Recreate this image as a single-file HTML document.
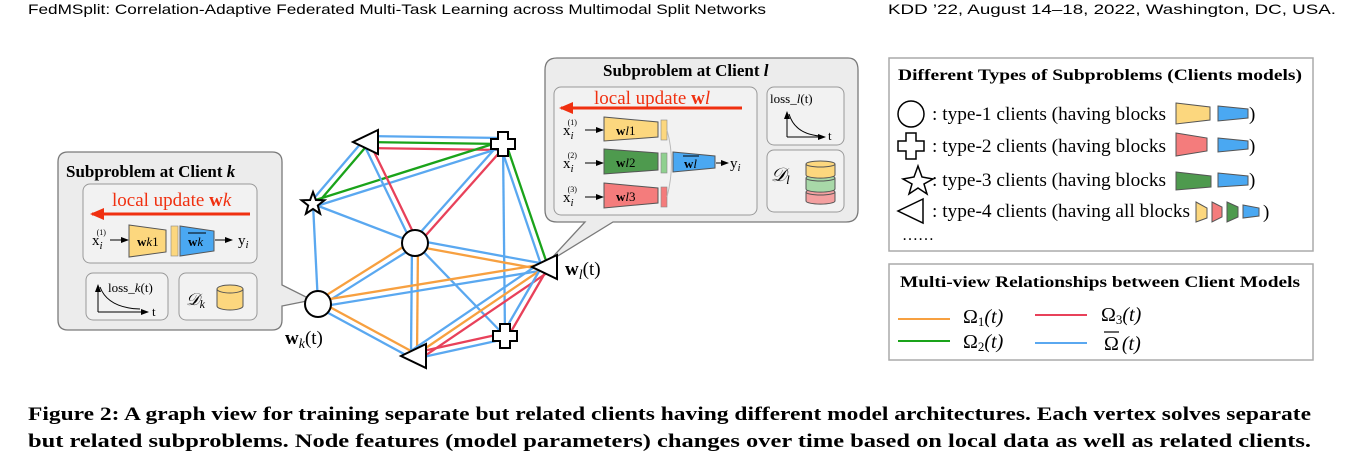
<!DOCTYPE html>
<html><head><meta charset="utf-8"><style>
html,body{margin:0;padding:0;background:#fff;}
svg{display:block;}
</style></head><body>
<svg id="s" width="1362" height="468" viewBox="0 0 1362 468" xmlns="http://www.w3.org/2000/svg" font-family="'Liberation Serif', serif">
<defs>
<marker id="ar" markerWidth="8" markerHeight="8" refX="7" refY="4" orient="auto" markerUnits="userSpaceOnUse"><path d="M0,1 L8,4 L0,7 z" fill="#000"/></marker>
<marker id="arr" markerWidth="14" markerHeight="12" refX="12" refY="6" orient="auto" markerUnits="userSpaceOnUse"><path d="M0,0 L14,6 L0,12 z" fill="#f03010"/></marker>
</defs>
<!-- header -->
<text x="28" y="14" font-family="'Liberation Sans',sans-serif" font-size="14" textLength="738" lengthAdjust="spacingAndGlyphs">FedMSplit: Correlation-Adaptive Federated Multi-Task Learning across Multimodal Split Networks</text>
<text x="888" y="14" font-family="'Liberation Sans',sans-serif" font-size="14" textLength="448" lengthAdjust="spacingAndGlyphs">KDD ’22, August 14–18, 2022, Washington, DC, USA.</text>

<g id="edges" stroke-width="2.3" fill="none"></g>

<!-- callout k -->
<path d="M68,152 H272 Q282,152 282,162 V285 L312,300 L282,306 V320 Q282,330 272,330 H68 Q58,330 58,320 V162 Q58,152 68,152 Z" fill="#ececec" stroke="#7a7a7a" stroke-width="1.3"/>
<text x="66" y="177" font-size="17" font-weight="bold">Subproblem at Client <tspan font-style="italic">k</tspan></text>
<rect x="83" y="184" width="174" height="79" rx="7" fill="#f2f2f2" stroke="#999"/>
<text x="112" y="206" font-size="19" fill="#f03010">local update <tspan font-weight="bold">w</tspan><tspan font-style="italic">k</tspan></text>
<line x1="250" y1="214" x2="92" y2="214" stroke="#f03010" stroke-width="3" marker-end="url(#arr)"/>
<text x="92" y="245" font-size="15">x<tspan font-size="11" font-style="italic" dy="4">i</tspan><tspan font-size="8" dx="-6" dy="-14">(1)</tspan></text>
<line x1="110" y1="240" x2="128" y2="240" stroke="#000" marker-end="url(#ar)"/>
<path d="M129,225 L166,230 V252 L129,257 Z" fill="#fcd77e" stroke="#555"/>
<text x="137" y="246" font-size="13" font-weight="bold">w<tspan font-style="italic" font-weight="normal">k</tspan><tspan font-weight="normal">1</tspan></text>
<rect x="171" y="226" width="7" height="30" fill="#fcd77e" stroke="#888" stroke-width="0.6"/>
<path d="M180,226 L214,231 V251 L180,256 Z" fill="#4aa8f2" stroke="#555"/>
<text x="188" y="246" font-size="13" font-weight="bold">w<tspan font-style="italic" font-weight="normal">k</tspan></text>
<line x1="188" y1="233" x2="206" y2="233" stroke="#000"/>
<line x1="215" y1="240" x2="232" y2="240" stroke="#000" marker-end="url(#ar)"/>
<text x="238" y="245" font-size="15">y<tspan font-size="11" font-style="italic" dy="3">i</tspan></text>
<rect x="86" y="273" width="82" height="47" rx="7" fill="#f2f2f2" stroke="#999"/>
<line x1="98" y1="312" x2="98" y2="285" stroke="#000" marker-end="url(#ar)"/>
<line x1="98" y1="312" x2="148" y2="312" stroke="#000" marker-end="url(#ar)"/>
<path d="M100,287 Q108,308 140,309" stroke="#000" fill="none"/>
<text x="108" y="292" font-size="13">loss_<tspan font-style="italic">k</tspan>(t)</text>
<text x="152" y="316" font-size="13">t</text>
<rect x="179" y="273" width="78" height="47" rx="7" fill="#f2f2f2" stroke="#999"/>
<text x="186" y="305" font-size="17" font-style="italic">𝒟<tspan font-size="12" dy="3">k</tspan></text>
<path d="M217,289 V306 A13,4 0 0 0 243,306 V289" fill="#fcd77e" stroke="#555"/>
<ellipse cx="230" cy="289" rx="13" ry="4" fill="#fcd77e" stroke="#555"/>

<!-- callout l -->
<path d="M557,58 H848 Q858,58 858,70 V210 Q858,222 846,222 H613 L548,262 L585,222 H557 Q545,222 545,210 V70 Q545,58 557,58 Z" fill="#ececec" stroke="#7a7a7a" stroke-width="1.3"/>
<text x="603" y="76" font-size="17" font-weight="bold">Subproblem at Client <tspan font-style="italic">l</tspan></text>
<rect x="554" y="87" width="203" height="128" rx="7" fill="#f2f2f2" stroke="#999"/>
<text x="594" y="104" font-size="19" fill="#f03010">local update <tspan font-weight="bold">w</tspan><tspan font-style="italic">l</tspan></text>
<line x1="742" y1="108" x2="561" y2="108" stroke="#f03010" stroke-width="3" marker-end="url(#arr)"/>
<g font-size="15">
<text x="563" y="135">x<tspan font-size="11" font-style="italic" dy="4">i</tspan><tspan font-size="8" dx="-6" dy="-14">(1)</tspan></text>
<text x="563" y="168">x<tspan font-size="11" font-style="italic" dy="4">i</tspan><tspan font-size="8" dx="-6" dy="-14">(2)</tspan></text>
<text x="563" y="202">x<tspan font-size="11" font-style="italic" dy="4">i</tspan><tspan font-size="8" dx="-6" dy="-14">(3)</tspan></text>
</g>
<line x1="585" y1="130" x2="603" y2="130" stroke="#000" marker-end="url(#ar)"/>
<line x1="585" y1="163" x2="603" y2="163" stroke="#000" marker-end="url(#ar)"/>
<line x1="585" y1="197" x2="603" y2="197" stroke="#000" marker-end="url(#ar)"/>
<path d="M604,117 L658,122 V137 L604,141 Z" fill="#fcd77e" stroke="#555"/>
<path d="M604,149 L658,153 V170 L604,174 Z" fill="#4e9a4e" stroke="#555"/>
<path d="M604,183 L658,188 V203 L604,208 Z" fill="#f47c7c" stroke="#555"/>
<text x="616" y="135" font-size="13" font-weight="bold">w<tspan font-style="italic" font-weight="normal">l</tspan><tspan font-weight="normal">1</tspan></text>
<text x="616" y="167" font-size="13" font-weight="bold">w<tspan font-style="italic" font-weight="normal">l</tspan><tspan font-weight="normal">2</tspan></text>
<text x="616" y="201" font-size="13" font-weight="bold">w<tspan font-style="italic" font-weight="normal">l</tspan><tspan font-weight="normal">3</tspan></text>
<rect x="661" y="120" width="6" height="20" fill="#fcd77e" stroke="#888" stroke-width="0.6"/>
<rect x="661" y="153" width="6" height="20" fill="#8fd08f" stroke="#888" stroke-width="0.6"/>
<rect x="661" y="187" width="6" height="20" fill="#f47c7c" stroke="#888" stroke-width="0.6"/>
<path d="M667,130 Q676,162 667,197" stroke="#bbb" fill="none"/>
<path d="M673,152 L715,156 V168 L673,172 Z" fill="#4aa8f2" stroke="#555"/>
<text x="684" y="168" font-size="13" font-weight="bold">w<tspan font-style="italic" font-weight="normal">l</tspan></text>
<line x1="683" y1="156" x2="699" y2="156" stroke="#000"/>
<line x1="716" y1="163" x2="728" y2="163" stroke="#000" marker-end="url(#ar)"/>
<text x="730" y="168" font-size="15">y<tspan font-size="11" font-style="italic" dy="3">i</tspan></text>
<rect x="767" y="87" width="77" height="58" rx="7" fill="#f2f2f2" stroke="#999"/>
<text x="770" y="103" font-size="13">loss_<tspan font-style="italic">l</tspan>(t)</text>
<line x1="787" y1="137" x2="787" y2="112" stroke="#000" marker-end="url(#ar)"/>
<line x1="787" y1="137" x2="825" y2="137" stroke="#000" marker-end="url(#ar)"/>
<path d="M789,114 Q795,134 820,136" stroke="#000" fill="none"/>
<text x="828" y="140" font-size="13">t</text>
<rect x="767" y="150" width="77" height="62" rx="7" fill="#f2f2f2" stroke="#999"/>
<text x="771" y="181" font-size="19" font-style="italic">𝒟<tspan font-size="13" dy="3">l</tspan></text>
<g stroke="#555">
<path d="M806,192 V201 A14,3 0 0 0 835,201 V192" fill="#f4a0a0"/><ellipse cx="820.5" cy="192" rx="14.5" ry="3" fill="#f4a0a0"/>
<path d="M806,178 V189 A14,3 0 0 0 835,189 V178" fill="#a8d8a8"/><ellipse cx="820.5" cy="178" rx="14.5" ry="3" fill="#a8d8a8"/>
<path d="M806,164 V175 A14,3 0 0 0 835,175 V164" fill="#fcd77e"/><ellipse cx="820.5" cy="164" rx="14.5" ry="3" fill="#fcd77e"/>
</g>

<g id="nodes" fill="#fff" stroke="#000" stroke-width="2"></g>
<text x="285" y="344" font-size="19"><tspan font-weight="bold">w</tspan><tspan font-size="14" font-style="italic" dy="4">k</tspan><tspan dy="-4">(t)</tspan></text>
<text x="565" y="275" font-size="19"><tspan font-weight="bold">w</tspan><tspan font-size="14" font-style="italic" dy="4">l</tspan><tspan dy="-4">(t)</tspan></text>

<!-- legend 1 -->
<rect x="889" y="58" width="424" height="193" fill="#fff" stroke="#aaa" stroke-width="1.5"/>
<text x="898" y="80" font-size="16" font-weight="bold" textLength="404" lengthAdjust="spacingAndGlyphs">Different Types of Subproblems (Clients models)</text>
<g font-size="19">
<circle cx="911" cy="114" r="13" fill="#fff" stroke="#000" stroke-width="1.5"/>
<text x="932" y="120" textLength="234" lengthAdjust="spacingAndGlyphs">: type-1 clients (having blocks</text>
<path d="M906,133 h10 v8 h8 v10 h-8 v8 h-10 v-8 h-8 v-10 h8 z" fill="#fff" stroke="#000" stroke-width="1.5"/>
<text x="932" y="152" textLength="234" lengthAdjust="spacingAndGlyphs">: type-2 clients (having blocks</text>
<path d="M918,166 L922,177 L933,179 L924,184 L927,194 L918,188 L909,194 L912,184 L903,179 L914,177 Z" fill="#fff" stroke="#000" stroke-width="1.5"/>
<text x="932" y="186" textLength="234" lengthAdjust="spacingAndGlyphs">: type-3 clients (having blocks</text>
<path d="M923,199 L898,211 L923,223 Z" fill="#fff" stroke="#000" stroke-width="1.5"/>
<text x="932" y="217" textLength="258" lengthAdjust="spacingAndGlyphs">: type-4 clients (having all blocks</text>
<text x="902" y="240" font-size="16">……</text>
<g stroke="#555" stroke-width="1">
<path d="M1176,103 L1210,107 V120 L1176,124 Z" fill="#fcd77e"/>
<path d="M1218,106 L1248,109 V118 L1218,121 Z" fill="#4aa8f2"/>
<path d="M1176,133 L1207,138 V151 L1176,156 Z" fill="#f47c7c"/>
<path d="M1218,138 L1248,141 V149 L1218,152 Z" fill="#4aa8f2"/>
<path d="M1176,172 L1211,176 V187 L1176,190 Z" fill="#4e9a4e"/>
<path d="M1218,173 L1248,176 V185 L1218,187 Z" fill="#4aa8f2"/>
<path d="M1196,202 L1207,208 V218 L1196,222 Z" fill="#fcd77e"/>
<path d="M1212,202 L1222,207 V217 L1212,222 Z" fill="#f47c7c"/>
<path d="M1227,202 L1238,207 V217 L1227,222 Z" fill="#4e9a4e"/>
<path d="M1243,205 L1259,208 V216 L1243,218 Z" fill="#4aa8f2"/>
</g>
<text x="1249" y="120">)</text><text x="1249" y="152">)</text><text x="1249" y="186">)</text><text x="1263" y="218">)</text>
</g>

<!-- legend 2 -->
<rect x="889" y="264" width="424" height="96" fill="#fff" stroke="#aaa" stroke-width="1.5"/>
<text x="900" y="287" font-size="16" font-weight="bold" textLength="400" lengthAdjust="spacingAndGlyphs">Multi-view Relationships between Client Models</text>
<line x1="898" y1="319" x2="950" y2="319" stroke="#f7a040" stroke-width="2"/>
<line x1="898" y1="341" x2="950" y2="341" stroke="#1aa31a" stroke-width="2"/>
<line x1="1035" y1="315" x2="1087" y2="315" stroke="#e8415a" stroke-width="2"/>
<line x1="1035" y1="343" x2="1087" y2="343" stroke="#5aa8f0" stroke-width="2"/>
<g font-size="20">
<text x="963" y="323">Ω<tspan font-size="13" dy="3">1</tspan><tspan dy="-3" font-style="italic">(t)</tspan></text>
<text x="963" y="348">Ω<tspan font-size="13" dy="3">2</tspan><tspan dy="-3" font-style="italic">(t)</tspan></text>
<text x="1101" y="321">Ω<tspan font-size="13" dy="3">3</tspan><tspan dy="-3" font-style="italic">(t)</tspan></text>
<text x="1104" y="350">Ω<tspan dx="3" font-style="italic">(t)</tspan></text>
<line x1="1104" y1="332" x2="1119" y2="332" stroke="#000" stroke-width="1.2"/>
</g>

<!-- caption -->
<text x="28" y="420" font-size="19" font-weight="bold" textLength="1283" lengthAdjust="spacingAndGlyphs">Figure 2: A graph view for training separate but related clients having different model architectures. Each vertex solves separate</text>
<text x="28" y="447" font-size="19" font-weight="bold" textLength="1283" lengthAdjust="spacingAndGlyphs">but related subproblems. Node features (model parameters) changes over time based on local data as well as related clients.</text>
</svg>
<script>
var N={TL:[366,142],PT:[503,144],ST:[313,204],C:[415,243],K:[318,304],L:[545,267],PB:[505,336],TB:[414,356]};
var O='#f7a040',G='#1aa31a',R='#e8415a',B='#5aa8f0';
var E=[['TL','PT',[B,G,R]],['TL','ST',[G,B]],['ST','PT',[G,B]],['TL','C',[R,B]],['PT','C',[R,B]],['PT','L',[G,B]],['PT','PB',[B]],['ST','C',[B]],['ST','K',[B]],['C','L',[B,O]],['C','K',[B,O]],['C','TB',[O,B]],['C','PB',[B]],['K','L',[O,B]],['K','TB',[O,B]],['L','TB',[R,O,B]],['L','PB',[R,B]],['TB','PB',[R,B]]];
var g=document.getElementById('edges'),ns='http://www.w3.org/2000/svg';
E.forEach(function(e){var a=N[e[0]],b=N[e[1]],dx=b[0]-a[0],dy=b[1]-a[1],l=Math.hypot(dx,dy),px=-dy/l,py=dx/l,n=e[2].length;
e[2].forEach(function(c,i){var o=(i-(n-1)/2)*6;var ln=document.createElementNS(ns,'line');
ln.setAttribute('x1',a[0]+px*o);ln.setAttribute('y1',a[1]+py*o);ln.setAttribute('x2',b[0]+px*o);ln.setAttribute('y2',b[1]+py*o);ln.setAttribute('stroke',c);g.appendChild(ln);});});
var nd=document.getElementById('nodes');
function add(s){nd.insertAdjacentHTML('beforeend',s);}
function tri(c,s){return '<path d="M'+(c[0]+12)+','+(c[1]-s)+' L'+(c[0]-13)+','+c[1]+' L'+(c[0]+12)+','+(c[1]+s)+' Z"/>';}
function plus(c){var x=c[0],y=c[1];return '<path d="M'+(x-5)+','+(y-12)+' h10 v7 h7 v10 h-7 v7 h-10 v-7 h-7 v-10 h7 z"/>';}
add(tri(N.TL,12));add(tri(N.L,12));add(tri(N.TB,12));
add(plus(N.PT));add(plus(N.PB));
var s='',x=N.ST[0],y=N.ST[1];for(var i=0;i<10;i++){var r=i%2?5:12,a=-Math.PI/2+i*Math.PI/5;s+=(i?'L':'M')+(x+r*Math.cos(a)).toFixed(1)+','+(y+r*Math.sin(a)).toFixed(1);}add('<path d="'+s+'Z"/>');
add('<circle cx="415" cy="243" r="13"/>');add('<circle cx="318" cy="304" r="13"/>');
</script>
</body></html>
